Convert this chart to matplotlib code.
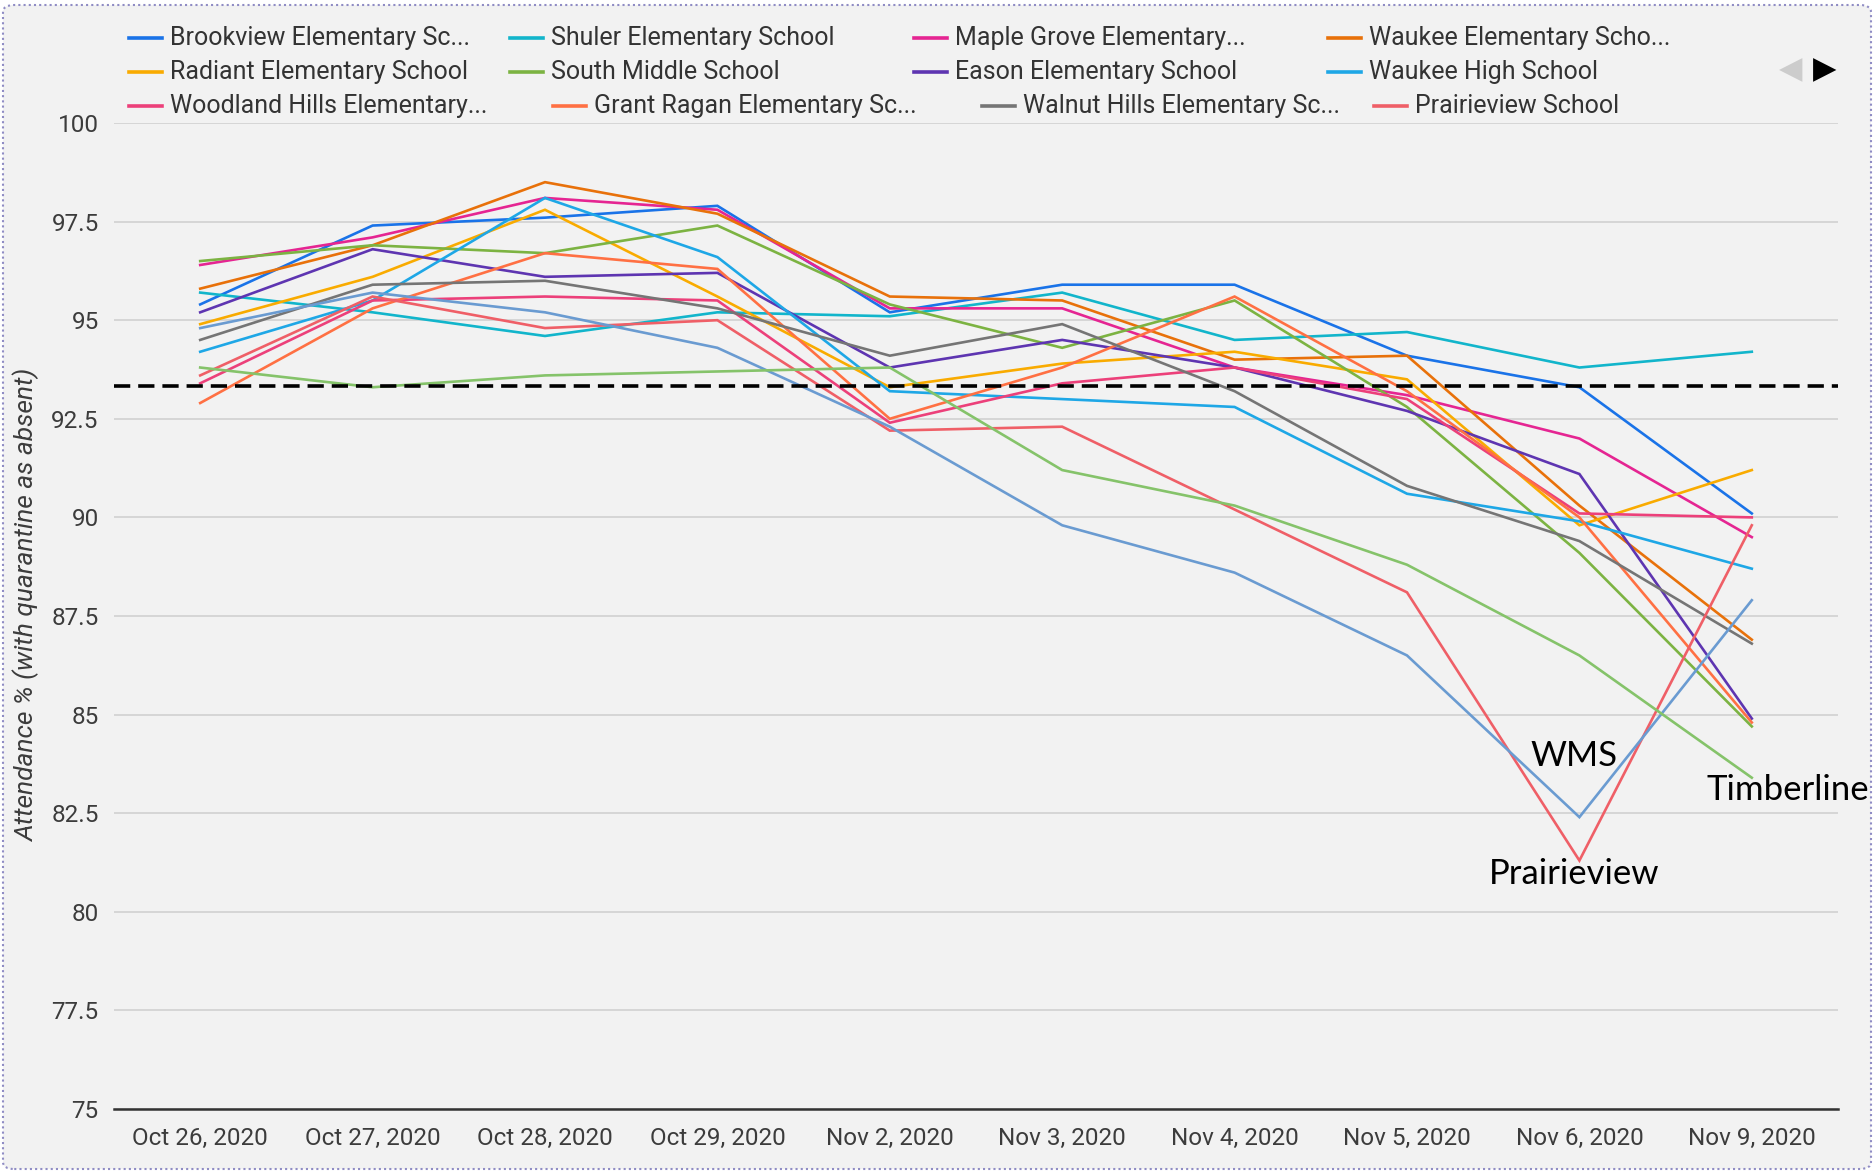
import numpy as np
import matplotlib.pyplot as plt
from matplotlib.lines import Line2D
from matplotlib.patches import FancyBboxPatch

#################################################
# Attendance data
#################################################
dates = ['Oct 26, 2020', 'Oct 27, 2020', 'Oct 28, 2020', 'Oct 29, 2020', 'Nov 2, 2020',
         'Nov 3, 2020', 'Nov 4, 2020', 'Nov 5, 2020', 'Nov 6, 2020', 'Nov 9, 2020']

brookview    = [95.4, 97.4, 97.6, 97.9, 95.2, 95.9, 95.9, 94.1, 93.3, 90.1]
shuler       = [95.7, 95.2, 94.6, 95.2, 95.1, 95.7, 94.5, 94.7, 93.8, 94.2]
maple_grove  = [96.4, 97.1, 98.1, 97.8, 95.3, 95.3, 93.8, 93.1, 92.0, 89.5]
waukee_elem  = [95.8, 96.9, 98.5, 97.7, 95.6, 95.5, 94.0, 94.1, 90.3, 86.9]
radiant      = [94.9, 96.1, 97.8, 95.6, 93.3, 93.9, 94.2, 93.5, 89.8, 91.2]
south_middle = [96.5, 96.9, 96.7, 97.4, 95.4, 94.3, 95.5, 92.8, 89.1, 84.7]
eason        = [95.2, 96.8, 96.1, 96.2, 93.8, 94.5, 93.8, 92.7, 91.1, 84.9]
waukee_high  = [94.2, 95.5, 98.1, 96.6, 93.2, 93.0, 92.8, 90.6, 89.9, 88.7]
woodland     = [93.4, 95.5, 95.6, 95.5, 92.4, 93.4, 93.8, 93.0, 90.1, 90.0]
grant_ragan  = [92.9, 95.3, 96.7, 96.3, 92.5, 93.8, 95.6, 93.2, 90.0, 84.8]
walnut_hills = [94.5, 95.9, 96.0, 95.3, 94.1, 94.9, 93.2, 90.8, 89.4, 86.8]
prairieview  = [93.6, 95.6, 94.8, 95.0, 92.2, 92.3, 90.2, 88.1, 81.3, 89.8]
wms          = [94.8, 95.7, 95.2, 94.3, 92.3, 89.8, 88.6, 86.5, 82.4, 87.9]
timberline   = [93.8, 93.3, 93.6, 93.7, 93.8, 91.2, 90.3, 88.8, 86.5, 83.4]

target = 93.33

legend_names = ['Brookview Elementary Sc...', 'Shuler Elementary School', 'Maple Grove Elementary...',
                'Waukee Elementary Scho...', 'Radiant Elementary School', 'South Middle School',
                'Eason Elementary School', 'Waukee High School', 'Woodland Hills Elementary...',
                'Grant Ragan Elementary Sc...', 'Walnut Hills Elementary Sc...', 'Prairieview School']

series = [brookview, shuler, maple_grove, waukee_elem, radiant, south_middle, eason,
          waukee_high, woodland, grant_ragan, walnut_hills, prairieview, wms, timberline]
colors = ['#1a73e8', '#12b5cb', '#e52592', '#e8710a', '#f9ab00', '#7cb342', '#5e35b1',
          '#1ea7e6', '#ec407a', '#ff7043', '#757575', '#ef5f67', '#6a9bd1', '#85c36a']

#################################################
# Figure
#################################################
plt.rcParams['font.family'] = ['Roboto', 'DejaVu Sans']
W, H = 1876, 1172
fig = plt.figure(figsize=(W / 100, H / 100), dpi=100, facecolor='white')

# dotted card frame
card = FancyBboxPatch((3 / W, 3 / H), 1 - 8 / W, 1 - 8 / H, boxstyle='round,pad=0,rounding_size=0.006',
                      transform=fig.transFigure, facecolor='#f2f2f2', edgecolor='#8f8cc4',
                      linestyle=(0, (1, 1.5)), linewidth=1.5, zorder=-10)
fig.add_artist(card)

ax = fig.add_axes([114 / W, 1 - 1109 / H, (1838 - 114) / W, (1109 - 123) / H])
ax.set_facecolor('none')
ax.set_zorder(2)

x = np.arange(len(dates))
for vals, c in zip(series, colors):
    ax.plot(x, vals, color=c, lw=1.9, solid_joinstyle='miter')

ax.axhline(target, color='black', lw=2.6, ls=(0, (4.5, 2.2)), zorder=5)

ax.set_xlim(-0.5, len(dates) - 0.5)
ax.set_ylim(75, 100)
ax.set_yticks(np.arange(75, 100.1, 2.5))
ax.set_yticklabels(['75', '77.5', '80', '82.5', '85', '87.5', '90', '92.5', '95', '97.5', '100'])
ax.set_xticks(x)
ax.set_xticklabels(dates)
ax.tick_params(axis='both', length=0, labelsize=17.5, labelcolor='#3c3c3c')
ax.tick_params(axis='y', pad=11)
ax.tick_params(axis='x', pad=13)
ax.grid(axis='y', color='#d6d6d6', lw=1.4)
ax.set_axisbelow(True)
for s in ['top', 'right', 'left']:
    ax.spines[s].set_visible(False)
ax.spines['bottom'].set_color('#333333')
ax.spines['bottom'].set_linewidth(1.8)

fig.text(27 / W, 1 - 605 / H, 'Attendance % (with quarantine as absent)', rotation=90,
         style='italic', fontsize=19, color='#3c3c3c', ha='center', va='center')

# annotations
ann_font = ['Lato', 'DejaVu Sans']
ax.annotate('WMS', xy=(7.97, 83.95), ha='center', va='center', fontsize=25, family=ann_font)
ax.annotate('Prairieview', xy=(7.97, 80.95), ha='center', va='center', fontsize=25, family=ann_font)
ax.annotate('Timberline', xy=(8.74, 83.1), ha='left', va='center', fontsize=25, family=ann_font,
            annotation_clip=False)

#################################################
# Legend (flow layout like the dashboard)
#################################################
leg_rows = [38, 72, 106]
leg_text_x = [[170, 551, 955, 1369], [170, 551, 955, 1369], [170, 594, 1023, 1415]]
k = 0
for r, yy in enumerate(leg_rows):
    for tx in leg_text_x[r]:
        yf = 1 - yy / H
        fig.add_artist(Line2D([(tx - 41) / W, (tx - 8) / W], [yf, yf], color=colors[k], lw=2.6,
                              transform=fig.transFigure))
        fig.text(tx / W, yf, legend_names[k], fontsize=18, color='#333333',
                 ha='left', va='center')
        k += 1

fig.text(1791 / W, 1 - 70 / H, '\u25C0', fontsize=22, color='#cccccc', ha='center', va='center',
         family='DejaVu Sans')
fig.text(1825 / W, 1 - 70 / H, '\u25B6', fontsize=22, color='black', ha='center', va='center',
         family='DejaVu Sans')

fig.savefig('out.png', dpi=100, facecolor=fig.get_facecolor())
